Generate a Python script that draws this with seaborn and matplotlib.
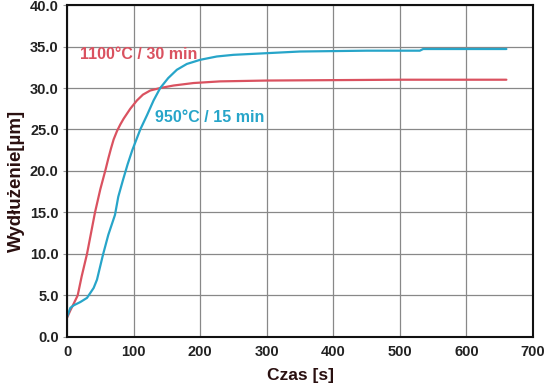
import matplotlib
matplotlib.use("Agg")
import matplotlib.pyplot as plt
import seaborn as sns
import pandas as pd

t_red = [0, 5, 10, 16, 22, 30, 36, 42, 50, 58, 62, 66, 70, 75, 80, 85, 90, 95, 105, 114, 125, 140, 160, 190, 230, 300, 400, 500, 600, 660]
v_red = [2.3, 3.2, 4.0, 5.0, 7.3, 10.0, 12.5, 15.0, 17.8, 20.2, 21.5, 22.7, 23.8, 24.8, 25.6, 26.3, 26.9, 27.5, 28.5, 29.2, 29.7, 30.0, 30.3, 30.6, 30.8, 30.9, 30.95, 31.0, 31.0, 31.0]

t_blue = [0, 5, 10, 20, 30, 40, 45, 54, 62, 72, 77, 84, 91, 98, 110, 120, 130, 140, 152, 165, 180, 200, 225, 250, 300, 350, 400, 450, 530, 535, 600, 660]
v_blue = [2.4, 3.5, 3.8, 4.2, 4.7, 5.9, 6.9, 9.9, 12.3, 14.7, 16.9, 18.9, 20.8, 22.5, 25.0, 26.7, 28.5, 30.0, 31.2, 32.2, 32.9, 33.4, 33.8, 34.0, 34.2, 34.4, 34.45, 34.5, 34.5, 34.7, 34.7, 34.7]

label_red = "1100°C / 30 min"
label_blue = "950°C / 15 min"
x_ticks = [0, 100, 200, 300, 400, 500, 600, 700]
y_ticks = [0, 5, 10, 15, 20, 25, 30, 35, 40]

sns.set_style("white")
plt.rcParams['font.family'] = ['Liberation Sans', 'DejaVu Sans']

df = pd.concat([
    pd.DataFrame({"t": t_red, "v": v_red, "s": label_red}),
    pd.DataFrame({"t": t_blue, "v": v_blue, "s": label_blue}),
])

red = "#da5260"
blue = "#27a5c9"

fig = plt.figure(figsize=(5.45, 3.89), dpi=100)
ax = fig.add_axes([0.123, 0.134, 0.855, 0.853])
sns.lineplot(data=df, x="t", y="v", hue="s", palette={label_red: red, label_blue: blue},
             ax=ax, linewidth=1.6, legend=False, sort=True)

ax.set_xlim(0, 700)
ax.set_ylim(0, 40)
ax.set_xticks(x_ticks)
ax.set_yticks(y_ticks)
ax.set_xticklabels([str(x) for x in x_ticks], fontsize=10.5, fontweight="bold", color="#222222")
ax.set_yticklabels([f"{y:.1f}" for y in y_ticks], fontsize=10.5, fontweight="bold", color="#222222")
ax.grid(True, color="#888888", linewidth=0.9)
ax.tick_params(axis="y", length=3, width=0.8, color="#999999", pad=3, left=True)
ax.tick_params(axis="x", length=0, pad=6)
for sp in ax.spines.values():
    sp.set_color("#111111")
    sp.set_linewidth(1.5)

ax.set_xlabel("Czas [s]", fontsize=12.5, fontweight="bold", color="#2a1010", labelpad=6)
ax.set_ylabel("Wydłużenie[µm]", fontsize=13.5, fontweight="bold", color="#2a1010")
ax.yaxis.set_label_coords(-0.09, 0.47)

ax.text(19.5, 34.0, label_red, color=red, fontsize=11.5, fontweight="bold", va="center")
ax.text(132, 26.5, label_blue, color=blue, fontsize=11.5, fontweight="bold", va="center")

fig.savefig("out.png", dpi=100)
